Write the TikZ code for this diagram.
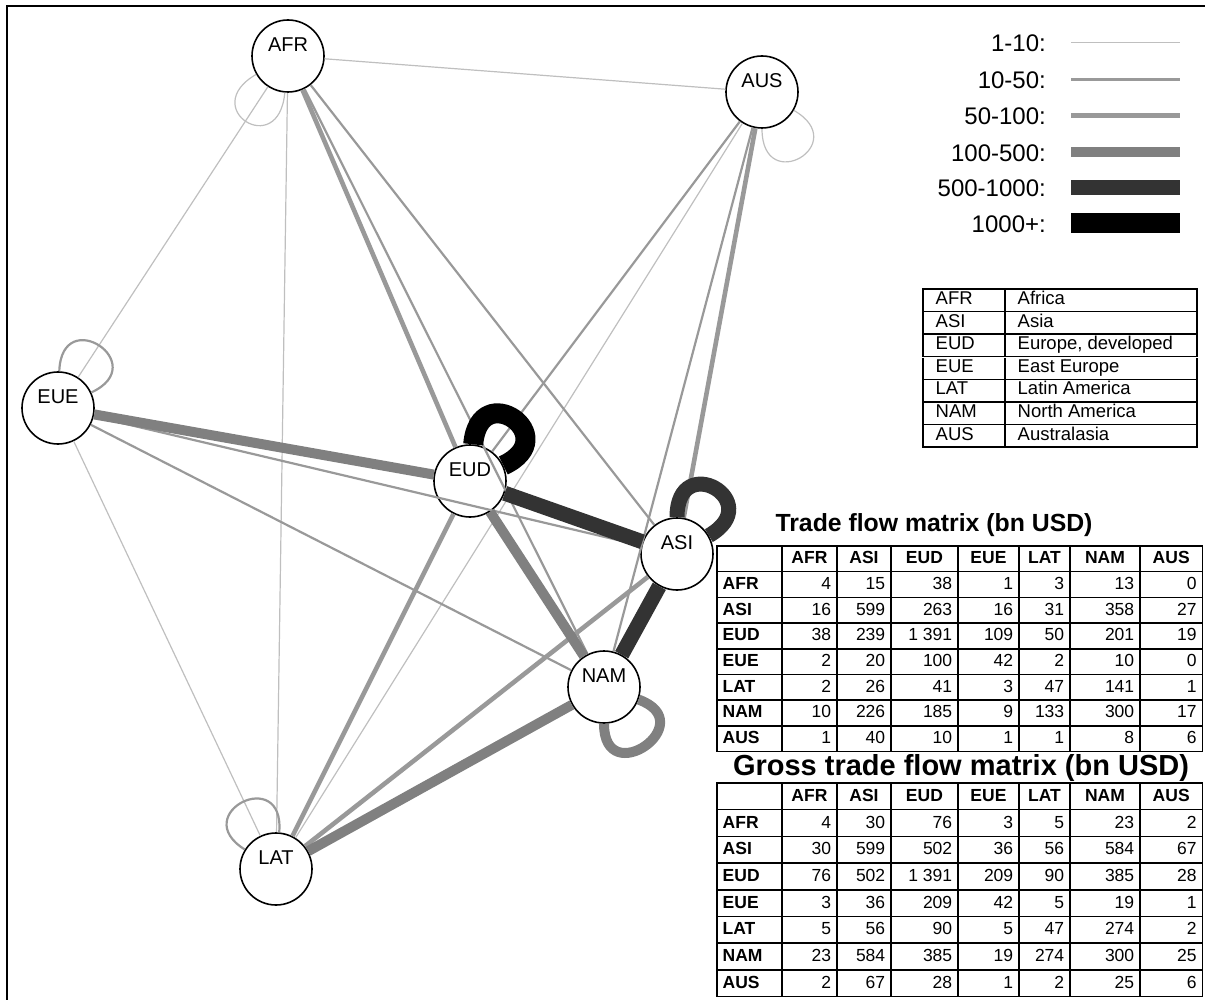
\documentclass[tikz,border=0pt]{standalone}
\usepackage{fontspec,array,tkz-graph}
\setmainfont{Liberation Sans}
\newcolumntype{R}[1]{>{\raggedleft\arraybackslash}p{#1}}
\newcolumntype{Q}{|>{\bfseries}p{53.5pt}|R{43.5pt}|R{42.5pt}|R{55.5pt}|R{49.5pt}|R{39.5pt}|R{58.5pt}|R{51pt}|}
\newcommand\hd[1]{\multicolumn{1}{c|}{\bfseries #1}}

\begin{document}
\begin{tikzpicture}
[x=1pt,y=1pt,
 Region/.style={circle,draw,line width=1.6pt,fill=white,minimum size=72pt,inner sep=0pt,
   text height=15pt,text depth=24.7pt,font=\fontsize{20}{24}\selectfont},
 Flow1/.style={draw=black!25,line width=1.2pt},
 Flow2/.style={draw=black!40,line width=2.2pt},
 Flow3/.style={draw=black!40,line width=4.6pt},
 Flow4/.style={draw=black!50,line width=10pt},
 Flow5/.style={draw=black!80,line width=15pt},
 Flow6/.style={draw=black,line width=20pt},
 Self/.style={min distance=68pt},
 Key/.style={anchor=east,inner sep=0pt,font=\fontsize{24}{28}\selectfont},
 Grid/.style={anchor=north west,inner sep=0pt}]
\useasboundingbox (0,0) rectangle (1205,-1000);
\draw[line width=2pt] (7,-1000) -- (7,-6) -- (1205,-6);
\node[Region] (AFR) at (288,-56) {AFR};
\node[Region] (AUS) at (762,-92) {AUS};
\node[Region] (EUE) at (58,-408) {EUE};
\node[Region] (EUD) at (470,-481) {EUD};
\node[Region] (ASI) at (677,-554) {ASI};
\node[Region] (NAM) at (604,-687) {NAM};
\node[Region] (LAT) at (276,-869) {LAT};
\tikzset{EdgeStyle/.style={Flow1}}
\Edge(AFR)(EUE)
\Edge(AFR)(LAT)
\Edge(AFR)(AUS)
\Edge(EUE)(LAT)
\Edge(LAT)(AUS)
\tikzset{EdgeStyle/.style={Flow2}}
\Edge(AFR)(ASI)
\Edge(AFR)(NAM)
\Edge(EUD)(AUS)
\Edge(EUE)(ASI)
\Edge(EUE)(NAM)
\Edge(NAM)(AUS)
\tikzset{EdgeStyle/.style={Flow3}}
\Edge(AFR)(EUD)
\Edge(ASI)(LAT)
\Edge(ASI)(AUS)
\Edge(EUD)(LAT)
\tikzset{EdgeStyle/.style={Flow4}}
\Edge(EUD)(EUE)
\Edge(EUD)(NAM)
\Edge(LAT)(NAM)
\tikzset{EdgeStyle/.style={Flow5}}
\Edge(ASI)(EUD)
\Edge(ASI)(NAM)
% trade inside a region
\draw[Flow1] (AFR) to[out=210,in=265,Self] (AFR);
\draw[Flow2] (EUE) to[out=88,in=25,Self] (EUE);
\draw[Flow6] (EUD) to[out=85,in=25,Self] (EUD);
\draw[Flow5] (ASI) to[out=90,in=30,Self] (ASI);
\draw[Flow4] (NAM) to[out=270,in=340,Self] (NAM);
\draw[Flow2] (LAT) to[out=148,in=85,Self] (LAT);
\draw[Flow1] (AUS) to[out=270,in=330,Self] (AUS);
% legend
\node[Key] (k1) at (1046,-43.5) {1-10:};
\node[Key] (k2) at (1046,-80.5) {10-50:};
\node[Key] (k3) at (1046,-116.5) {50-100:};
\node[Key] (k4) at (1046,-153) {100-500:};
\node[Key] (k5) at (1046,-188.5) {500-1000:};
\node[Key] (k6) at (1046,-224.5) {1000+:};
\draw[Flow1] ([xshift=25pt,yshift=1pt]k1.east) -- ++(109,0);
\draw[Flow2] ([xshift=25pt,yshift=1pt]k2.east) -- ++(109,0);
\draw[Flow3] ([xshift=25pt,yshift=1pt]k3.east) -- ++(109,0);
\draw[Flow4] ([xshift=25pt,yshift=1pt]k4.east) -- ++(109,0);
\draw[Flow5] ([xshift=25pt,yshift=1pt]k5.east) -- ++(109,0);
\draw[Flow6] ([xshift=25pt,yshift=1pt]k6.east) -- ++(109,0);
% tables
\node[Grid] (names) at (922,-288) {\fontsize{18.5}{20}\selectfont\setlength\tabcolsep{12pt}%
\setlength\arrayrulewidth{1.5pt}\renewcommand\arraystretch{1.055}%
\begin{tabular}{|p{56.5pt}|p{166.5pt}|}\hline
AFR & Africa\\\hline
ASI & Asia\\\hline
EUD & Europe, developed\\\hline
EUE & East Europe\\\hline
LAT & Latin America\\\hline
NAM & North America\\\hline
AUS & Australasia\\\hline
\end{tabular}};
\node (tradehead) at (934,-525.5) {\fontsize{24.8}{28}\selectfont\bfseries Trade flow matrix (bn USD)};
\node[Grid] (trade) at (716,-545) {\fontsize{17.5}{20}\selectfont\setlength\tabcolsep{5pt}%
\setlength\arrayrulewidth{1.5pt}\renewcommand\arraystretch{1.21}%
\begin{tabular}{Q}\hline
 & \hd{AFR} & \hd{ASI} & \hd{EUD} & \hd{EUE} & \hd{LAT} & \hd{NAM} & \hd{AUS}\\\hline
AFR & 4 & 15 & 38 & 1 & 3 & 13 & 0\\\hline
ASI & 16 & 599 & 263 & 16 & 31 & 358 & 27\\\hline
EUD & 38 & 239 & 1~391 & 109 & 50 & 201 & 19\\\hline
EUE & 2 & 20 & 100 & 42 & 2 & 10 & 0\\\hline
LAT & 2 & 26 & 41 & 3 & 47 & 141 & 1\\\hline
NAM & 10 & 226 & 185 & 9 & 133 & 300 & 17\\\hline
AUS & 1 & 40 & 10 & 1 & 1 & 8 & 6\\\hline
\end{tabular}};
\node (grosshead) at (961,-768) {\fontsize{29}{33}\selectfont\bfseries Gross trade flow matrix (bn USD)};
\node[Grid] (gross) at (716,-782) {\fontsize{17.5}{20}\selectfont\setlength\tabcolsep{5pt}%
\setlength\arrayrulewidth{1.5pt}\renewcommand\arraystretch{1.26}%
\begin{tabular}{Q}\hline
 & \hd{AFR} & \hd{ASI} & \hd{EUD} & \hd{EUE} & \hd{LAT} & \hd{NAM} & \hd{AUS}\\\hline
AFR & 4 & 30 & 76 & 3 & 5 & 23 & 2\\\hline
ASI & 30 & 599 & 502 & 36 & 56 & 584 & 67\\\hline
EUD & 76 & 502 & 1~391 & 209 & 90 & 385 & 28\\\hline
EUE & 3 & 36 & 209 & 42 & 5 & 19 & 1\\\hline
LAT & 5 & 56 & 90 & 5 & 47 & 274 & 2\\\hline
NAM & 23 & 584 & 385 & 19 & 274 & 300 & 25\\\hline
AUS & 2 & 67 & 28 & 1 & 2 & 25 & 6\\\hline
\end{tabular}};
\end{tikzpicture}
\end{document}
